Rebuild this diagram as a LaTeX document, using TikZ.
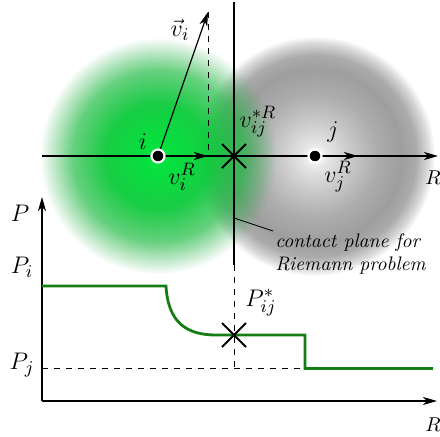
\documentclass[tikz,border=0pt]{standalone}
\usetikzlibrary{arrows.meta,shapes.misc,fadings}

\definecolor{blobgreen}{RGB}{0,232,60}
\definecolor{blobgreendark}{RGB}{25,165,55}
\definecolor{curvegreen}{RGB}{20,125,20}
\pgfdeclareradialshading{grayblob}{\pgfpointorigin}{color(0bp)=(white); color(3bp)=(gray!22); color(8bp)=(gray!45); color(13bp)=(gray!65); color(18bp)=(gray!76); color(21bp)=(gray!66); color(23.5bp)=(gray!30); color(25bp)=(white); color(50bp)=(white)}
\pgfdeclareradialshading{greenmask}{\pgfpointorigin}{color(0bp)=(pgftransparent!0); color(11bp)=(pgftransparent!5); color(18bp)=(pgftransparent!35); color(25bp)=(pgftransparent!100); color(50bp)=(pgftransparent!100)}
\pgfdeclarefading{greenfade}{\pgfuseshading{greenmask}}

\tikzset{
  vec/.style={-{Stealth[length=7pt,width=4pt,inset=2pt]}, semithick},
  dot/.style={circle, fill=black, draw=white, line width=1.1pt, inner sep=0pt, minimum size=6.5pt},
  crossmark/.style={cross out, draw, line width=1pt, inner sep=0pt, minimum size=11pt},
  pcurve/.style={curvegreen, line width=1.4pt},
  lbl/.style={font=\fontsize{13}{15}\selectfont}
}

\begin{document}
\begin{tikzpicture}[x=0.5pt, y=0.5pt]
    \useasboundingbox (0,0) rectangle (440,436);
    % particles
    \shade[shading=grayblob] (315,280) circle (120);
    \shade[inner color=blobgreen, outer color=blobgreendark, path fading=greenfade] (158,280) circle (118);
    % upper axis and contact plane
    \coordinate (axL) at (42,280);
    \coordinate (axR) at (438,280);
    \coordinate (ctop) at (234,434);
    \coordinate (cmid) at (234,171);
    \coordinate (cbot) at (234,68);
    \coordinate (cnote) at (234,218);
    \draw[vec] (axL) -- (axR);
    \draw[semithick] (ctop) -- (cmid);
    \draw[dashed] (cmid) -- (cbot);
    \node (i) at (158,280) [dot] {};
    \node (j) at (315,280) [dot] {};
    \node (xtop) at (234,280) [crossmark] {};
    \coordinate (vitip) at (208,424);
    \coordinate (vir) at (208,280);
    \coordinate (vjr) at (358,280);
    \draw[vec] (i) -- (vitip);
    \draw[dashed] (vitip) -- (vir);
    \draw[vec] (i) -- (vir);
    \draw[vec] (j) -- (vjr);
    \node (li) at (143,294) [lbl] {$i$};
    \node (lj) at (333,304) [lbl] {$j$};
    \node (lvi) at (180,406) [lbl] {$\vec{v}_i$};
    \node (lvir) at (182,259) [lbl] {$v_i^R$};
    \node (lvjr) at (338,259) [lbl] {$v_j^R$};
    \node (lvij) at (258,314) [lbl] {$v_{ij}^{*R}$};
    \node (lR1) at (433,258) {$R$};
    \node (note) at (273,205) [anchor=north west, align=left, inner sep=1pt, font=\fontsize{9.8}{11.5}\selectfont\itshape] {contact plane for\\Riemann problem};
    \draw (cnote) -- (note.north west);
    % pressure profile
    \coordinate (o) at (42,35);
    \coordinate (ptop) at (42,239);
    \coordinate (rend) at (437,35);
    \draw[vec] (o) -- (ptop);
    \draw[vec] (o) -- (rend);
    \node (lP) at (20,223) [lbl] {$P$};
    \node (lR2) at (433,11) {$R$};
    \node (lPi) at (22,169) [lbl] {$P_i$};
    \node (lPj) at (22,71) [lbl] {$P_j$};
    \node (lPs) at (261,133) [lbl] {$P_{ij}^*$};
    \draw[dashed] (42,68) -- (305,68);
    \draw[pcurve] (42,150) -- (166,150) .. controls (168,114) and (186,101) .. (216,101) -- (305,101) -- (305,67.5) -- (433,67.5);
    \node (xbot) at (234,101) [crossmark] {};
\end{tikzpicture}
\end{document}
